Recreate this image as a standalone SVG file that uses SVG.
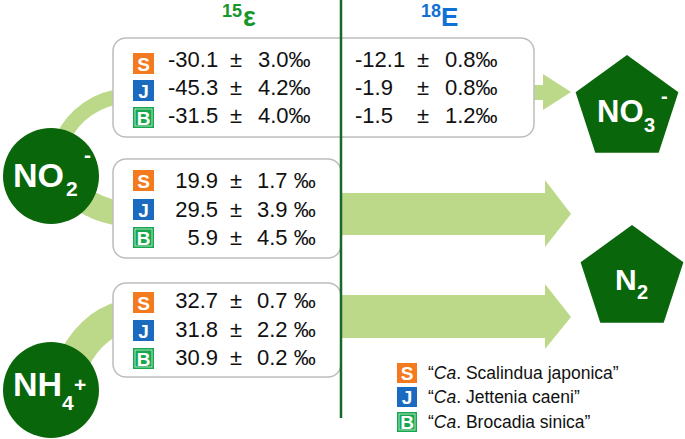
<svg xmlns="http://www.w3.org/2000/svg" width="685" height="439" viewBox="0 0 685 439">
<style>
.band{fill:none;stroke:#bcd98a}
.arrow{fill:#bcd98a}
.box{fill:#fff;stroke:#bdbdbd;stroke-width:1.5}
.node{fill:#0a660a}
.nt{font-family:"Liberation Sans",Arial,sans-serif;font-weight:bold;fill:#fff}
.v{font-family:"Liberation Sans",Arial,sans-serif;font-size:22px;fill:#111}
.bl{font-family:"Liberation Sans",Arial,sans-serif;font-weight:bold;font-size:19px;fill:#fff;text-anchor:middle}
.lg{font-family:"Liberation Sans",Arial,sans-serif;font-size:17.5px;fill:#111}
.S{fill:#f47a20}
.J{fill:#1a6bbf}
.B{fill:#17a84f}
.Bi{fill:none;stroke:#fff;stroke-width:0.8;opacity:0.8}
</style>
<g id="connectors">
<path class="band" stroke-width="15" d="M 62 140 A 74 74 0 0 1 126 96"/>
<path class="band" stroke-width="25" d="M 66 182 Q 86 210 125 214"/>
<path class="band" stroke-width="32" d="M 68 372 Q 88 325 125 316"/>
<polygon class="arrow" points="525,85 543,85 543,74 571,92 543,110 543,100 525,100"/>
<polygon class="arrow" points="338,193 545,193 545,180 571,214 545,247 545,235 338,235"/>
<polygon class="arrow" points="338,295 545,295 545,284 571,317 545,349 545,338 338,338"/>
</g>
<g id="box1">
<rect class="box" x="113" y="38" width="421" height="99" rx="13"/>
<rect class="S" x="133" y="53" width="21" height="21"/><text class="bl" x="143.5" y="70.5">S</text>
<rect class="J" x="133" y="80" width="21" height="21"/><text class="bl" x="143.5" y="97.5">J</text>
<rect class="B" x="133" y="107" width="21" height="21"/><rect class="Bi" x="135" y="109" width="17" height="17"/><text class="bl" x="143.5" y="124.5">B</text>
<text class="v" x="168" y="67">-30.1</text><text class="v" x="230" y="67">±</text><text class="v" x="258" y="67">3.0‰</text>
<text class="v" x="168" y="95">-45.3</text><text class="v" x="230" y="95">±</text><text class="v" x="258" y="95">4.2‰</text>
<text class="v" x="168" y="123">-31.5</text><text class="v" x="230" y="123">±</text><text class="v" x="258" y="123">4.0‰</text>
<text class="v" x="355" y="67">-12.1</text><text class="v" x="417" y="67">±</text><text class="v" x="445" y="67">0.8‰</text>
<text class="v" x="355" y="95">-1.9</text><text class="v" x="417" y="95">±</text><text class="v" x="445" y="95">0.8‰</text>
<text class="v" x="355" y="123">-1.5</text><text class="v" x="417" y="123">±</text><text class="v" x="445" y="123">1.2‰</text>
</g>
<g id="box2">
<rect class="box" x="113" y="159" width="228" height="99" rx="13"/>
<rect class="S" x="133" y="170" width="21" height="21"/><text class="bl" x="143.5" y="187.5">S</text>
<rect class="J" x="133" y="199" width="21" height="21"/><text class="bl" x="143.5" y="216.5">J</text>
<rect class="B" x="133" y="227" width="21" height="21"/><rect class="Bi" x="135" y="229" width="17" height="17"/><text class="bl" x="143.5" y="244.5">B</text>
<text class="v" x="218" y="188" text-anchor="end">19.9</text><text class="v" x="230" y="188">±</text><text class="v" x="257" y="188">1.7 ‰</text>
<text class="v" x="218" y="217" text-anchor="end">29.5</text><text class="v" x="230" y="217">±</text><text class="v" x="257" y="217">3.9 ‰</text>
<text class="v" x="218" y="245" text-anchor="end">5.9</text><text class="v" x="230" y="245">±</text><text class="v" x="257" y="245">4.5 ‰</text>
</g>
<g id="box3">
<rect class="box" x="113" y="283" width="228" height="94" rx="13"/>
<rect class="S" x="133" y="292" width="21" height="21"/><text class="bl" x="143.5" y="309.5">S</text>
<rect class="J" x="133" y="320" width="21" height="21"/><text class="bl" x="143.5" y="337.5">J</text>
<rect class="B" x="133" y="348" width="21" height="21"/><rect class="Bi" x="135" y="350" width="17" height="17"/><text class="bl" x="143.5" y="365.5">B</text>
<text class="v" x="218" y="308" text-anchor="end">32.7</text><text class="v" x="230" y="308">±</text><text class="v" x="257" y="308">0.7 ‰</text>
<text class="v" x="218" y="337" text-anchor="end">31.8</text><text class="v" x="230" y="337">±</text><text class="v" x="257" y="337">2.2 ‰</text>
<text class="v" x="218" y="365" text-anchor="end">30.9</text><text class="v" x="230" y="365">±</text><text class="v" x="257" y="365">0.2 ‰</text>
</g>
<g id="divider">
<line x1="341" y1="0" x2="341" y2="418" stroke="#16692a" stroke-width="2.5"/>
</g>
<g id="headers" font-family="'Liberation Sans',Arial,sans-serif" font-weight="bold">
<text x="222" y="17" font-size="18" fill="#17962b">15</text><text x="243" y="26" font-size="27" fill="#17962b">ε</text>
<text x="421" y="17" font-size="18" fill="#1170d4">18</text><text x="441" y="26" font-size="26" fill="#1170d4">E</text>
</g>
<g id="no2">
<circle class="node" cx="51" cy="176" r="48"/>
<text class="nt" x="13" y="187" font-size="34">NO</text><text class="nt" x="66" y="196" font-size="21">2</text><text class="nt" x="84" y="162" font-size="21">-</text>
</g>
<g id="nh4">
<circle class="node" cx="51" cy="390" r="48"/>
<text class="nt" x="13" y="396" font-size="34">NH</text><text class="nt" x="62" y="410" font-size="21">4</text><text class="nt" x="74" y="392" font-size="21">+</text>
</g>
<g id="no3">
<polygon class="node" points="627,55 678.4,92.3 658.7,152.7 595.3,152.7 575.6,92.3"/>
<text class="nt" x="597" y="122" font-size="31">NO</text><text class="nt" x="644" y="132" font-size="20">3</text><text class="nt" x="661" y="103" font-size="20">-</text>
</g>
<g id="n2">
<polygon class="node" points="632,225 683.4,262.3 663.7,322.7 600.3,322.7 580.6,262.3"/>
<text class="nt" x="615" y="290" font-size="30">N</text><text class="nt" x="637" y="299" font-size="20">2</text>
</g>
<g id="legend">
<rect class="S" x="397" y="363" width="20" height="20"/><text class="bl" x="407" y="380" font-size="18">S</text>
<rect class="J" x="397" y="387" width="20" height="20"/><text class="bl" x="407" y="404" font-size="18">J</text>
<rect class="B" x="397" y="412" width="20" height="20"/><rect class="Bi" x="399" y="414" width="16" height="16"/><text class="bl" x="407" y="429" font-size="18">B</text>
<text class="lg" x="428" y="379">“<tspan font-style="italic">Ca</tspan>. Scalindua japonica”</text>
<text class="lg" x="428" y="403">“<tspan font-style="italic">Ca</tspan>. Jettenia caeni”</text>
<text class="lg" x="428" y="428">“<tspan font-style="italic">Ca</tspan>. Brocadia sinica”</text>
</g>
</svg>
